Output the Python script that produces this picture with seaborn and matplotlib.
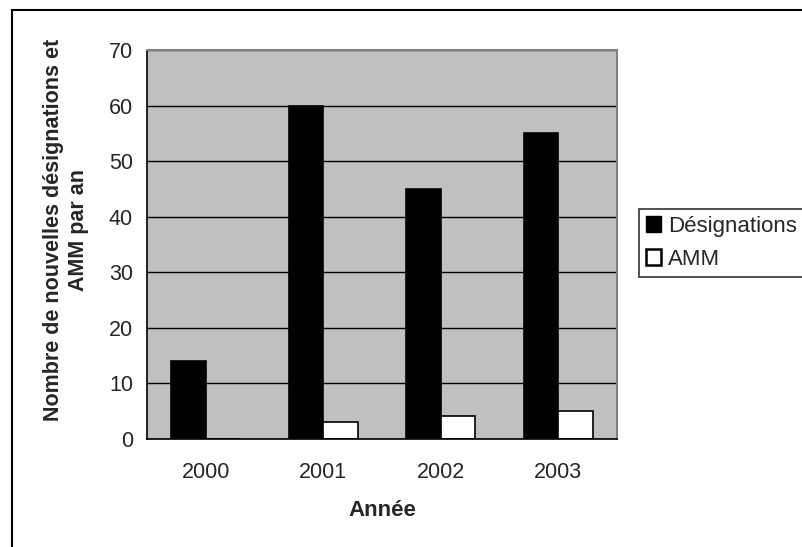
import pandas as pd
import matplotlib
matplotlib.use("Agg")
import matplotlib.pyplot as plt
import seaborn as sns
from matplotlib.patches import Rectangle

# données
annees = ["2000", "2001", "2002", "2003"]
designations = [14, 60, 45, 55]
amm = [0, 3, 4, 5]

df = pd.DataFrame({
    "Année": annees * 2,
    "Nombre": designations + amm,
    "Série": ["Désignations"] * 4 + ["AMM"] * 4,
})

sns.set_style("white")
plt.rcParams["font.family"] = ["Liberation Sans", "DejaVu Sans"]

W, H = 802, 547
fig = plt.figure(figsize=(W / 100, H / 100), dpi=100)
# zone de tracé : x 147..617 px, y 50..438.7 px
ax = fig.add_axes([147 / W, 1 - 438.7 / H, 470 / W, 388.7 / H])
ax.set_facecolor("#C0C0C0")

sns.barplot(data=df, x="Année", y="Nombre", hue="Série",
            palette={"Désignations": "black", "AMM": "white"},
            width=0.59, gap=0, edgecolor="black", linewidth=1.2,
            legend=False, ax=ax)

ax.set_ylim(0, 70)
ax.set_yticks(range(0, 71, 10))
ax.set_xlim(-0.5, 3.5)
ax.yaxis.grid(True, color="black", linewidth=1)
ax.set_axisbelow(True)

# ticks de l'axe x entre les catégories (style Excel)
ax.set_xticks([-0.5, 0.5, 1.5, 2.5, 3.5], minor=False)
ax.set_xticklabels([])
ax.set_xticks(range(4), minor=True)
ax.set_xticklabels(annees, minor=True)
ax.tick_params(axis="x", which="major", length=6, width=1, direction="out", color="black")
ax.tick_params(axis="x", which="minor", length=0, pad=17, labelsize=15.5)
ax.tick_params(axis="y", length=6, width=1, direction="out", color="black",
               labelsize=15.5, pad=4)

for side in ["left", "bottom"]:
    ax.spines[side].set_color("black")
    ax.spines[side].set_linewidth(1.2)
for side in ["top", "right"]:
    ax.spines[side].set_color("#808080")
    ax.spines[side].set_linewidth(1.5)

ax.set_xlabel("Année", fontsize=16, fontweight="bold", va="center")
ax.xaxis.set_label_coords(0.5, -(510 - 438.7) / 388.7)
ax.set_ylabel("Nombre de nouvelles désignations et\nAMM par an", fontsize=15.5,
              fontweight="bold", va="center")
ax.yaxis.set_label_coords((66 - 147) / 470, (438.7 - 230) / 388.7)

handles = [Rectangle((0, 0), 1, 1, facecolor="black", edgecolor="black"),
           Rectangle((0, 0), 1, 1, facecolor="white", edgecolor="black", linewidth=1.8)]
leg = fig.legend(handles, ["Désignations", "AMM"], loc="upper left",
                 bbox_to_anchor=(639 / W, 1 - 300 / H, 180 / W, 91 / H),
                 mode="expand", fontsize=16, frameon=True,
                 fancybox=False, edgecolor="black", handlelength=0.7,
                 handleheight=0.7, handletextpad=0.3, borderpad=0.3,
                 labelspacing=0.55, borderaxespad=0)
leg.get_frame().set_linewidth(1.2)

# cadre du graphique (coupé à droite et en bas)
fig.patches.append(Rectangle((12 / W, -0.1), 1.2, 1.1 - 10 / H, transform=fig.transFigure,
                             fill=False, edgecolor="black", linewidth=1.5))

fig.savefig("out.png", dpi=100)
